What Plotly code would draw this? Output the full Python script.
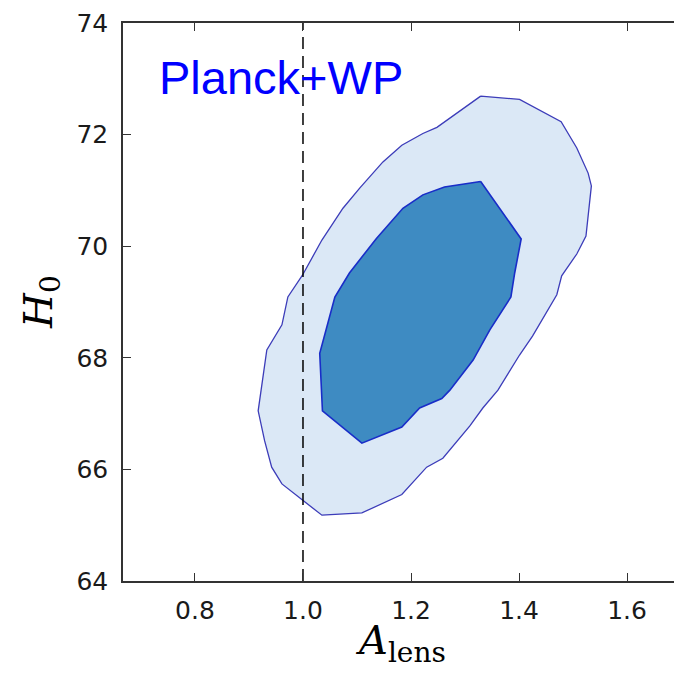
import plotly.graph_objects as go

# 95% (outer) contour of A_lens vs H0
outer_x = [1.329, 1.401, 1.478, 1.507, 1.528, 1.534, 1.524, 1.507, 1.479, 1.470,
           1.425, 1.401, 1.361, 1.333, 1.309, 1.259, 1.229, 1.183, 1.109, 1.035,
           0.999, 0.961, 0.942, 0.929, 0.917, 0.933, 0.961, 0.972, 0.999, 1.035,
           1.074, 1.105, 1.148, 1.183, 1.222, 1.248]
outer_y = [72.69, 72.63, 72.23, 71.76, 71.31, 71.08, 70.18, 69.86, 69.47, 69.13,
           68.39, 68.05, 67.42, 67.10, 66.78, 66.20, 66.04, 65.55, 65.22, 65.18,
           65.45, 65.74, 66.04, 66.51, 67.05, 68.14, 68.59, 69.09, 69.48, 70.11,
           70.68, 71.04, 71.51, 71.81, 72.02, 72.13]

# 68% (inner) contour
inner_x = [1.329, 1.404, 1.392, 1.385, 1.346, 1.324, 1.315, 1.272, 1.257, 1.216,
           1.183, 1.109, 1.036, 1.031, 1.053, 1.059, 1.086, 1.136, 1.185, 1.222, 1.262]
inner_y = [71.16, 70.13, 69.52, 69.09, 68.50, 68.10, 67.96, 67.42, 67.27, 67.10,
           66.76, 66.47, 67.05, 68.08, 68.89, 69.09, 69.52, 70.14, 70.68, 70.92, 71.06]

ref_x = 1.0
x_ticks = [0.8, 1.0, 1.2, 1.4, 1.6]
y_ticks = [64, 66, 68, 70, 72, 74]
x_range = [0.6667, 1.687]
y_range = [64, 74]

fig = go.Figure()
fig.add_trace(go.Scatter(
    x=outer_x + outer_x[:1], y=outer_y + outer_y[:1], mode="lines",
    fill="toself", fillcolor="rgb(219,232,246)",
    line=dict(color="rgb(60,60,185)", width=1.3), hoverinfo="skip"))
fig.add_trace(go.Scatter(
    x=inner_x + inner_x[:1], y=inner_y + inner_y[:1], mode="lines",
    fill="toself", fillcolor="rgb(62,139,194)",
    line=dict(color="rgb(25,45,200)", width=1.6), hoverinfo="skip"))
fig.add_trace(go.Scatter(
    x=[ref_x, ref_x], y=y_range, mode="lines",
    line=dict(color="black", width=1.5, dash="12px,7px"), hoverinfo="skip"))

axis_common = dict(
    showgrid=False, zeroline=False, showline=True, linecolor="#333",
    linewidth=1.5, ticks="inside", ticklen=8, tickwidth=1, tickcolor="#333",
    tickfont=dict(family="DejaVu Sans", size=25, color="#1a1a1a"))

fig.update_xaxes(range=x_range, tickvals=x_ticks, tickformat=".1f",
                 mirror="ticks", ticklabelstandoff=6, **axis_common)
fig.update_yaxes(range=y_range, tickvals=y_ticks, ticklabelstandoff=8,
                 **axis_common)

fig.add_annotation(text="Planck+WP", xref="paper", yref="paper",
                   x=0.0617, y=0.9023, xanchor="left", yanchor="middle",
                   showarrow=False,
                   font=dict(family="Liberation Sans", size=47, color="#0000ff"))
fig.add_annotation(text="<i>H</i><sub>0</sub>", xref="paper", yref="paper",
                   x=-0.1488, y=0.5, xanchor="center", yanchor="middle",
                   textangle=-90, showarrow=False,
                   font=dict(family="DejaVu Serif", size=40, color="black"))
fig.add_annotation(text="<i>A</i><sub>lens</sub>", xref="paper", yref="paper",
                   x=0.5045, y=-0.111, xanchor="center", yanchor="middle",
                   showarrow=False,
                   font=dict(family="DejaVu Serif", size=40, color="black"))

fig.update_layout(width=674, height=673, showlegend=False,
                  plot_bgcolor="white", paper_bgcolor="white",
                  margin=dict(l=123, r=0, t=23, b=92))

fig.write_html("out.html")
